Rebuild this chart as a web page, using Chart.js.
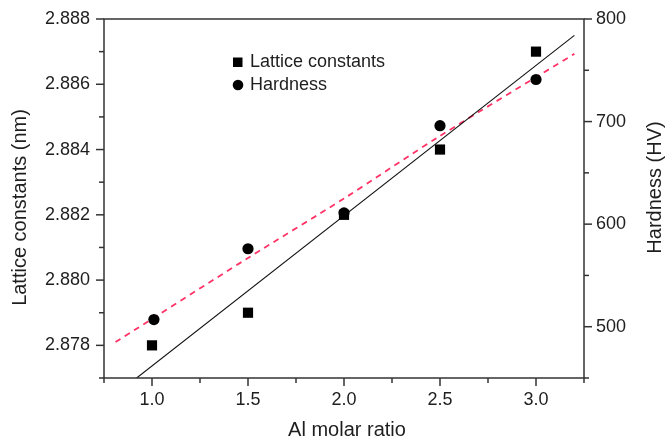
<!DOCTYPE html>
<html>
<head>
<meta charset="utf-8">
<script src="https://cdn.jsdelivr.net/npm/chart.js@4"></script>
<style>
  html, body { margin: 0; padding: 0; background: #fff; }
  canvas { display: block; }
</style>
</head>
<body>
<canvas id="grafico" width="667" height="437"></canvas>
<script>
// Datos
const ratioAl = [1.0, 1.5, 2.0, 2.5, 3.0];
const ratioAlDureza = [1.01, 1.5, 2.0, 2.5, 3.0];
const constanteRed = [2.878, 2.879, 2.882, 2.884, 2.887];
const dureza = [507, 576, 611, 696, 741];

// Rectas de ajuste (extremos)
const ajusteRedX = [0.92, 3.2];
const ajusteRedY = [2.877, 2.8875];
const ajusteDurezaX = [0.81, 1.5, 2.0, 2.5, 3.2];
const ajusteDurezaY = [485, 567, 625, 686, 766];

const xTicks = [1.0, 1.5, 2.0, 2.5, 3.0];
const yTicks = [2.878, 2.880, 2.882, 2.884, 2.886, 2.888];
const y1Ticks = [500, 600, 700, 800];

const pares = (xs, ys) => xs.map((x, i) => ({ x: x, y: ys[i] }));

const colorEje = '#333';
const colorTexto = '#1e1e1e';
const fuente = 'Liberation Sans, Arial, Helvetica, sans-serif';

// Es tick mayor si esta en la lista de etiquetas
const esMayor = (lista, v, dec) => lista.some(t => Math.abs(t - v) < Math.pow(10, -dec) / 2);

// Marco, ticks y titulos de ejes dibujados a mano
const marcoPlugin = {
    id: 'marco',
    afterDatasetsDraw(chart) {
        const { ctx, chartArea: a, scales } = chart;
        ctx.save();
        ctx.strokeStyle = colorEje;
        ctx.lineWidth = 1.5;
        ctx.strokeRect(a.left, a.top, a.right - a.left, a.bottom - a.top);

        const dibujarTicks = (scale, lista, dec, lado) => {
            scale.ticks.forEach(t => {
                const p = scale.getPixelForValue(t.value);
                const largo = esMayor(lista, t.value, dec) ? 8 : 5;
                ctx.beginPath();
                if (lado === 'left') { ctx.moveTo(a.left, p); ctx.lineTo(a.left - largo, p); }
                if (lado === 'right') { ctx.moveTo(a.right, p); ctx.lineTo(a.right + largo, p); }
                if (lado === 'bottom') { ctx.moveTo(p, a.bottom); ctx.lineTo(p, a.bottom + largo); }
                ctx.stroke();
            });
        };
        dibujarTicks(scales.x, xTicks, 2, 'bottom');
        dibujarTicks(scales.y, yTicks, 4, 'left');
        dibujarTicks(scales.y1, y1Ticks, 0, 'right');

        // Titulos de ejes
        ctx.fillStyle = colorTexto;
        ctx.font = '20px ' + fuente;
        ctx.textAlign = 'center';
        ctx.textBaseline = 'middle';
        ctx.fillText('Al molar ratio', (a.left + a.right) / 2 + 3, 430);

        ctx.save();
        ctx.translate(20, (a.top + a.bottom) / 2 + 9);
        ctx.rotate(-Math.PI / 2);
        ctx.fillText('Lattice constants (nm)', 0, 0);
        ctx.restore();

        ctx.save();
        ctx.translate(655, (a.top + a.bottom) / 2 - 11);
        ctx.rotate(-Math.PI / 2);
        ctx.fillText('Hardness (HV)', 0, 0);
        ctx.restore();

        // Leyenda dentro del area
        ctx.font = '18px ' + fuente;
        ctx.textAlign = 'left';
        const lx = a.left + 134;
        const ly = a.top + 43;
        chart.data.datasets.filter(d => d.enLeyenda).forEach((d, i) => {
            const y = ly + i * 23;
            ctx.fillStyle = d.backgroundColor;
            if (d.pointStyle === 'rect') {
                ctx.fillRect(lx - 5, y - 4.5, 9.5, 9.5);
            } else {
                ctx.beginPath();
                ctx.arc(lx, y, 5.3, 0, Math.PI * 2);
                ctx.fill();
            }
            ctx.fillStyle = colorTexto;
            ctx.fillText(d.label, lx + 12, y);
        });
        ctx.restore();
    }
};

const ejeBase = {
    grid: { display: false, drawTicks: false },
    border: { display: false },
};

// Tamaño fijo del eje y sin relleno extra por las etiquetas
const fijarAncho = ancho => s => {
    s.width = ancho;
    s.paddingTop = 0;
    s.paddingBottom = 0;
};

new Chart('grafico', {
    type: 'scatter',
    data: {
        datasets: [
            {
                label: 'Lattice constants',
                data: pares(ratioAl, constanteRed),
                yAxisID: 'y',
                pointStyle: 'rect',
                pointRadius: 7.2,
                backgroundColor: '#000',
                borderColor: '#000',
                borderWidth: 0,
                enLeyenda: true
            },
            {
                label: 'Hardness',
                data: pares(ratioAlDureza, dureza),
                yAxisID: 'y1',
                pointStyle: 'circle',
                pointRadius: 5.6,
                backgroundColor: '#000',
                borderColor: '#000',
                borderWidth: 0,
                enLeyenda: true
            },
            {
                label: 'Ajuste red',
                type: 'line',
                data: pares(ajusteRedX, ajusteRedY),
                yAxisID: 'y',
                borderColor: '#111',
                borderWidth: 1.1,
                pointRadius: 0,
                fill: false
            },
            {
                label: 'Ajuste dureza',
                type: 'line',
                data: pares(ajusteDurezaX, ajusteDurezaY),
                yAxisID: 'y1',
                borderColor: '#ff3366',
                borderWidth: 1.8,
                borderDash: [6, 5],
                pointRadius: 0,
                tension: 0.3,
                fill: false
            }
        ]
    },
    options: {
        responsive: false,
        animation: false,
        layout: { padding: { top: 19, left: 0, right: 0, bottom: 0 } },
        plugins: {
            legend: { display: false },
            tooltip: { enabled: false }
        },
        scales: {
            x: {
                ...ejeBase,
                type: 'linear',
                position: 'bottom',
                min: 0.75,
                max: 3.25,
                afterFit: s => { s.height = 59; },
                ticks: {
                    stepSize: 0.25,
                    padding: 11,
                    color: colorTexto,
                    font: { size: 18, family: fuente },
                    callback: v => esMayor(xTicks, v, 2) ? v.toFixed(1) : ''
                }
            },
            y: {
                ...ejeBase,
                position: 'left',
                min: 2.877,
                max: 2.888,
                afterFit: fijarAncho(104),
                ticks: {
                    stepSize: 0.001,
                    padding: 14,
                    color: colorTexto,
                    font: { size: 18, family: fuente },
                    callback: v => esMayor(yTicks, v, 4) ? v.toFixed(3) : ''
                }
            },
            y1: {
                ...ejeBase,
                position: 'right',
                min: 450,
                max: 800,
                afterFit: fijarAncho(83),
                ticks: {
                    stepSize: 50,
                    padding: 12,
                    color: colorTexto,
                    font: { size: 18, family: fuente },
                    callback: v => esMayor(y1Ticks, v, 0) ? String(v) : ''
                }
            }
        }
    },
    plugins: [marcoPlugin]
});
</script>
</body>
</html>
